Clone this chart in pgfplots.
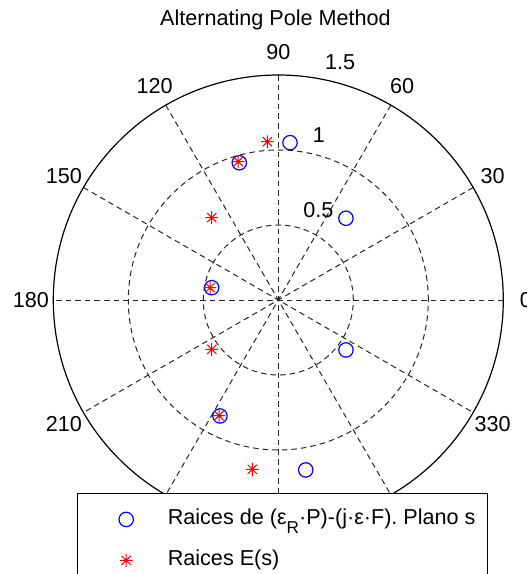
\documentclass[border=0pt]{standalone}
\usepackage{fontspec}
\setmainfont{Liberation Sans}
\usepackage{pgfplots}
\pgfplotsset{compat=1.18}

% MATLAB-style '*' marker: a plus and a cross on top of each other
\pgfdeclareplotmark{mstar}{%
  \pgfpathmoveto{\pgfqpoint{-\pgfplotmarksize}{0pt}}%
  \pgfpathlineto{\pgfqpoint{\pgfplotmarksize}{0pt}}%
  \pgfpathmoveto{\pgfqpoint{0pt}{-\pgfplotmarksize}}%
  \pgfpathlineto{\pgfqpoint{0pt}{\pgfplotmarksize}}%
  \pgfpathmoveto{\pgfqpoint{-0.72\pgfplotmarksize}{-0.72\pgfplotmarksize}}%
  \pgfpathlineto{\pgfqpoint{0.72\pgfplotmarksize}{0.72\pgfplotmarksize}}%
  \pgfpathmoveto{\pgfqpoint{-0.72\pgfplotmarksize}{0.72\pgfplotmarksize}}%
  \pgfpathlineto{\pgfqpoint{0.72\pgfplotmarksize}{-0.72\pgfplotmarksize}}%
  \pgfusepathqstroke}

\newcommand{\lbl}{\fontsize{10.8}{13}\selectfont}

\begin{document}
\begin{tikzpicture}
\begin{axis}[
  x=75pt, y=75pt,
  xmin=-1.5, xmax=1.5, ymin=-1.5, ymax=1.5,
  hide axis, clip=false,
  legend style={
    at={(axis cs:-1.342,-1.287)}, anchor=north west,
    draw=black, fill=white, line width=0.6pt,
    inner xsep=4pt, inner ysep=5.4pt, row sep=5.5pt,
    font=\lbl,
    nodes={inner sep=2pt, text height=8pt, text depth=3pt},
  },
  legend cell align=left,
  legend image code/.code={\path (-20pt,0pt) (18.5pt,0pt); \draw[#1] plot coordinates {(0pt,0pt)};},
]
  % polar grid: dashed spokes and circles, solid outer rim
  \pgfplotsinvokeforeach{0,30,60,90,120,150}{
    \draw[black!85, line width=0.5pt, dash pattern=on 2.8pt off 2pt]
      (axis cs:{1.5*cos(#1)},{1.5*sin(#1)}) -- (axis cs:{-1.5*cos(#1)},{-1.5*sin(#1)});
  }
  \draw[black!85, line width=0.5pt, dash pattern=on 2.8pt off 2pt] (axis cs:0,0) circle[radius=37.5pt];
  \draw[black!85, line width=0.5pt, dash pattern=on 2.8pt off 2pt] (axis cs:0,0) circle[radius=75pt];
  \draw[black, line width=0.6pt] (axis cs:0,0) circle[radius=112.5pt];

  % angle labels (those at 240, 270 and 300 sit under the legend box)
  \pgfplotsinvokeforeach{0,30,60,90,120,150,180,210,330}{
    \node[font=\lbl] at (axis cs:{1.65*cos(#1)},{1.65*sin(#1)}) {#1};
  }
  % radius labels
  \node[font=\lbl] at (axis cs:0.271,1.10) {1};
  \node[font=\lbl] at (axis cs:0.267,0.60) {0.5};
  \node[font=\lbl] at (axis cs:0.412,1.588) {1.5};

  % title
  \node[font=\lbl, anchor=base] at (axis cs:-0.019,1.829) {Alternating Pole Method};

  \coordinate (O) at (axis cs:0,0);

  \addplot[only marks, mark=o, mark size=3.6pt, color=blue, line width=0.6pt]
    coordinates {
      (0.078,1.049) (-0.260,0.915) (0.451,0.545) (-0.444,0.082)
      (0.451,-0.333) (-0.389,-0.773) (0.183,-1.133)
    };
  \addlegendentry{Raices de (ε\raisebox{-4.5pt}{\fontsize{8.6}{9}\selectfont R}·P)-(j·ε·F). Plano s}

  \addplot[only marks, mark=mstar, mark size=3.2pt, color=red, line width=0.5pt]
    coordinates {
      (-0.073,1.055) (-0.267,0.922) (-0.444,0.549) (-0.455,0.082)
      (-0.444,-0.329) (-0.395,-0.771) (-0.173,-1.129)
    };
  \addlegendentry{Raices E(s)}
\end{axis}
\pgfresetboundingbox
\path[use as bounding box] ([shift={(-139.15pt,-137pt)}]O) rectangle ([shift={(123.85pt,150pt)}]O);
\end{tikzpicture}
\end{document}
